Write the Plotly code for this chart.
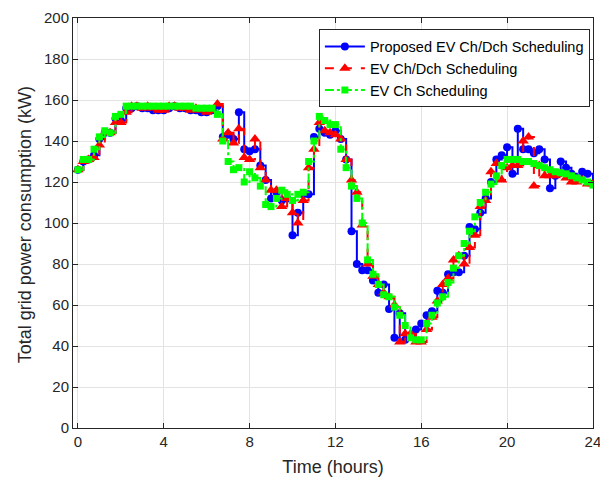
import numpy as np
import plotly.graph_objects as go

# time in hours (15-min steps)
time_h = [i * 0.25 for i in range(97)]

proposed_chdch = [
    126, 130, 131, 133, 141, 144, 144, 151, 150, 156, 156, 157, 156, 156, 155, 155,
    155, 156, 157, 156, 156, 155, 155, 154, 154, 155, 157, 142, 143, 141, 154, 136,
    135, 136, 128, 121, 112, 115, 111, 112, 94, 105, 114, 114, 142, 146, 144, 143,
    145, 141, 131, 96, 80, 77, 77, 72, 66, 70, 58, 44, 56, 43, 45, 48,
    51, 55, 57, 67, 66, 75, 76, 76, 84, 98, 97, 105, 112, 120, 131, 133,
    137, 124, 146, 136, 136, 134, 136, 131, 117, 123, 130, 127, 124, 122, 125, 124,
    119,
]

ev_chdch = [
    126, 130, 131, 132, 138, 144, 144, 149, 149, 154, 157, 157, 156, 157, 156, 155,
    155, 157, 157, 156, 156, 155, 156, 155, 154, 155, 158, 141, 144, 139, 146, 132,
    131, 141, 127, 121, 116, 116, 108, 112, 105, 100, 111, 127, 136, 149, 145, 144,
    143, 141, 131, 121, 115, 99, 80, 74, 70, 66, 64, 60, 42, 46, 46, 42,
    42, 48, 54, 62, 70, 73, 82, 84, 80, 88, 94, 108, 111, 125, 129, 121,
    127, 128, 128, 140, 142, 118, 128, 123, 123, 123, 124, 122, 120, 120, 121, 119,
    119,
]

ev_ch = [
    126, 131, 131, 136, 142, 145, 144, 152, 153, 157, 157, 157, 157, 157, 157, 157,
    157, 157, 157, 157, 157, 157, 156, 156, 156, 156, 153, 140, 130, 126, 127, 120,
    125, 122, 118, 109, 108, 112, 116, 114, 111, 114, 115, 130, 140, 152, 150, 148,
    148, 136, 127, 118, 112, 100, 82, 75, 70, 65, 64, 59, 55, 50, 44, 43,
    43, 51, 55, 61, 64, 71, 78, 84, 90, 96, 103, 110, 115, 119, 123, 128,
    131, 131, 131, 130, 130, 129, 128, 127, 126, 125, 124.5, 124, 123, 122, 121, 120,
    118.5,
]

x_ticks = [0, 4, 8, 12, 16, 20, 24]
y_ticks = list(range(0, 201, 20))

fig = go.Figure()
fig.add_trace(go.Scatter(
    x=time_h, y=proposed_chdch, mode="lines+markers", line_shape="hv",
    name="Proposed EV Ch/Dch Scheduling",
    line=dict(color="#0000FF", width=2),
    marker=dict(symbol="circle", size=8, color="#0000FF"),
))
fig.add_trace(go.Scatter(
    x=time_h, y=ev_chdch, mode="lines+markers", line_shape="hv",
    name="EV Ch/Dch Scheduling",
    line=dict(color="#FF0000", width=2, dash="dash"),
    marker=dict(symbol="triangle-up", size=10, color="#FF0000"),
))
fig.add_trace(go.Scatter(
    x=time_h, y=ev_ch, mode="lines+markers", line_shape="hv",
    name="EV Ch Scheduling",
    line=dict(color="#00FF00", width=2, dash="dashdot"),
    marker=dict(symbol="square", size=7, color="#00FF00"),
))

axis_common = dict(
    showline=True, linecolor="#262626", linewidth=1, mirror="ticks",
    ticks="inside", ticklen=5, tickcolor="#262626",
    showgrid=True, gridcolor="#E3E3E3", gridwidth=1, zeroline=False,
    tickfont=dict(family="Liberation Sans, Arial", size=15, color="#262626"),
    ticklabeloverflow="allow", automargin=False,
)

fig.update_layout(
    width=600, height=477,
    margin=dict(l=73, r=7, t=18, b=49),
    paper_bgcolor="white", plot_bgcolor="white",
    font=dict(family="Liberation Sans, Arial", color="#262626"),
    xaxis=dict(
        range=[-0.23, 24.005], tickvals=x_ticks,
        title=dict(text="Time (hours)", font=dict(size=18, color="#262626")),
        **axis_common,
    ),
    yaxis=dict(
        range=[0, 200], tickvals=y_ticks,
        **axis_common,
    ),
    legend=dict(
        x=0.994, y=0.972, xanchor="right", yanchor="top",
        bgcolor="white", bordercolor="#262626", borderwidth=1,
        font=dict(family="Liberation Sans, Arial", size=14.5, color="#000000"),
        tracegroupgap=0, itemwidth=40,
    ),
    showlegend=True,
    annotations=[dict(
        text="Total grid power consumption (kW)", textangle=-90,
        xref="paper", yref="paper", x=-0.092, y=0.495,
        xanchor="center", yanchor="middle", showarrow=False,
        font=dict(family="Liberation Sans, Arial", size=18, color="#262626"),
    )],
)

fig.write_html("out.html")
